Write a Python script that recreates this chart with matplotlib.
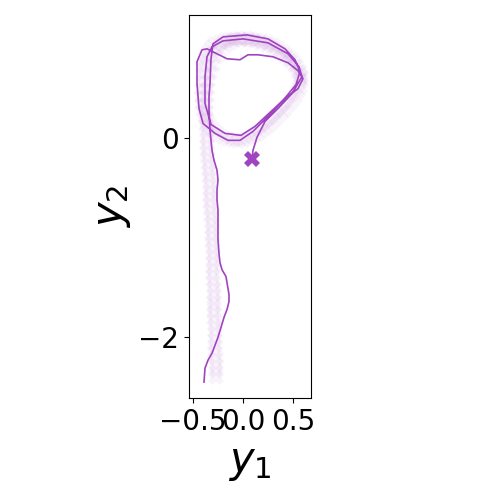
import numpy as np
import matplotlib
matplotlib.use('Agg')
import matplotlib.pyplot as plt

# trajectory (solid line)
traj_y1 = [-0.39, -0.38, -0.35, -0.31, -0.28, -0.25, -0.22, -0.19, -0.16, -0.14, -0.14, -0.15, -0.17, -0.21, -0.23, -0.24,
           -0.25, -0.25, -0.25, -0.26, -0.26, -0.25, -0.26, -0.29, -0.31, -0.33, -0.34, -0.34, -0.33, -0.32,
           -0.30, -0.20, 0.04, 0.25, 0.42, 0.52, 0.57, 0.53,
           0.40, 0.25, 0.10, -0.03, -0.15, -0.28, -0.40, -0.44, -0.46, -0.46, -0.41, -0.36,
           -0.16, -0.03, 0.05, 0.15, 0.30, 0.45, 0.55, 0.60, 0.55,
           0.42, 0.28, 0.12, -0.02, -0.18, -0.32, -0.38, -0.38, -0.36, -0.31,
           -0.20, 0.00, 0.25, 0.45, 0.56, 0.59,
           0.49, 0.35, 0.22, 0.14, 0.10, 0.09]
traj_y2 = [-2.45, -2.31, -2.23, -2.16, -2.08, -2.00, -1.90, -1.80, -1.72, -1.64, -1.57, -1.51, -1.39, -1.32, -1.25, -1.16,
           -1.02, -0.89, -0.72, -0.62, -0.52, -0.42, -0.32, -0.22, -0.12, 0.08, 0.28, 0.42, 0.55, 0.80,
           0.95, 1.02, 1.04, 1.00, 0.90, 0.79, 0.67, 0.54,
           0.38, 0.22, 0.07, -0.02, -0.02, 0.05, 0.15, 0.30, 0.55, 0.77, 0.89, 0.90,
           0.80, 0.79, 0.84, 0.84, 0.82, 0.76, 0.68, 0.60, 0.50,
           0.40, 0.27, 0.12, 0.03, 0.05, 0.14, 0.35, 0.62, 0.82, 0.92,
           0.98, 1.00, 0.96, 0.85, 0.72, 0.62,
           0.45, 0.30, 0.17, 0.01, -0.12, -0.21]

# faded reference trail
trail_y1 = [-0.27, -0.27, -0.27, -0.27, -0.28, -0.28, -0.28, -0.28, -0.28, -0.29,
            -0.29, -0.29, -0.29, -0.29, -0.29, -0.30, -0.30, -0.30, -0.30, -0.30,
            -0.30, -0.31, -0.31, -0.31, -0.31, -0.32, -0.32, -0.33, -0.33, -0.33,
            -0.33, -0.34, -0.34, -0.35, -0.35, -0.36, -0.36, -0.36, -0.36, -0.37,
            -0.37, -0.37, -0.37, -0.36, -0.36, -0.35, -0.33, -0.30, -0.27, -0.23,
            -0.18, -0.13, -0.08, -0.03, 0.03, 0.08, 0.14, 0.19, 0.25, 0.30,
            0.35, 0.40, 0.45, 0.49, 0.53, 0.56, 0.58, 0.58, 0.57, 0.55,
            0.52, 0.49, 0.45, 0.41, 0.38, 0.34, 0.30, 0.26, 0.22, 0.18,
            0.14, 0.10, 0.05, 0.00, -0.05, -0.10, -0.15, -0.20, -0.25, -0.29,
            -0.33, -0.36, -0.38, -0.40, -0.41, -0.41, -0.41, -0.40, -0.40, -0.39,
            -0.38, -0.36, -0.34, -0.31, -0.28, -0.23, -0.18, -0.13, -0.08, -0.02,
            0.05, 0.11, 0.18, 0.24, 0.30, 0.36, 0.42, 0.47, 0.52, 0.55, 0.58]
trail_y2 = [-2.40, -2.34, -2.28, -2.21, -2.15, -2.08, -2.02, -1.95, -1.89, -1.82,
            -1.76, -1.69, -1.63, -1.56, -1.50, -1.43, -1.37, -1.30, -1.24, -1.17,
            -1.11, -1.04, -0.98, -0.91, -0.85, -0.78, -0.72, -0.65, -0.59, -0.52,
            -0.46, -0.39, -0.33, -0.26, -0.20, -0.13, -0.07, 0.00, 0.06, 0.13,
            0.20, 0.28, 0.35, 0.43, 0.50, 0.58, 0.66, 0.74, 0.82, 0.88,
            0.93, 0.96, 0.99, 1.00, 1.01, 1.00, 0.99, 0.98, 0.96, 0.94,
            0.91, 0.87, 0.83, 0.79, 0.74, 0.68, 0.63, 0.58, 0.52, 0.48,
            0.43, 0.38, 0.34, 0.29, 0.25, 0.21, 0.17, 0.13, 0.10, 0.07,
            0.04, 0.02, 0.00, -0.02, -0.03, -0.02, -0.01, 0.01, 0.04, 0.08,
            0.12, 0.17, 0.22, 0.28, 0.35, 0.42, 0.50, 0.57, 0.65, 0.72,
            0.78, 0.83, 0.88, 0.92, 0.95, 0.97, 0.99, 1.00, 1.00, 1.00,
            0.99, 0.98, 0.96, 0.94, 0.91, 0.87, 0.83, 0.78, 0.73, 0.67, 0.62]

color = '#a043c0'

fig = plt.figure(figsize=(5, 5), dpi=100)
ax = fig.add_axes([0.378, 0.204, 0.244, 0.766])

ax.plot(trail_y1, trail_y2, linestyle='none', marker='X', markersize=11,
        markeredgewidth=0, color=color, alpha=0.06)
ax.plot(traj_y1, traj_y2, color=color, linewidth=1.2)
ax.plot(traj_y1[-1], traj_y2[-1], marker='X', markersize=11, color=color,
        markeredgewidth=0, linestyle='none')

ax.set_xlim(-0.54, 0.68)
ax.set_ylim(-2.61, 1.24)
ax.set_xticks([-0.5, 0.0, 0.5])
ax.set_yticks([-2, 0])
ax.tick_params(labelsize=20)
ax.set_xlabel('$y_1$', fontsize=30)
ax.set_ylabel('$y_2$', fontsize=30)

fig.savefig('out.png', dpi=100)
